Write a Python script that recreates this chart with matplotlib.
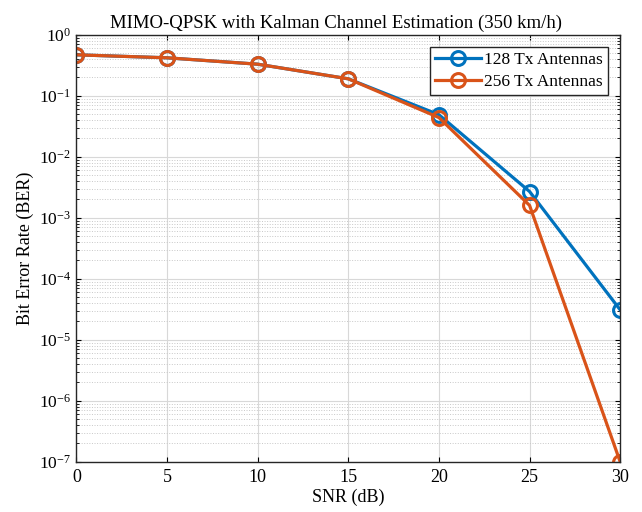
import matplotlib
matplotlib.use("Agg")
import matplotlib.pyplot as plt
from matplotlib.ticker import LogLocator, NullFormatter

plt.rcParams["font.family"] = ["Liberation Serif", "DejaVu Serif"]
plt.rcParams["mathtext.fontset"] = "stix"

snr_db = [0, 5, 10, 15, 20, 25, 30]
ber_128 = [0.47, 0.42, 0.33, 0.19, 0.049, 0.0027, 3.1e-5]
ber_256 = [0.47, 0.42, 0.33, 0.19, 0.044, 0.0016, 1e-7]

BLUE = "#0072BD"
ORANGE = "#D95319"

fig = plt.figure(figsize=(6.42, 5.12), dpi=100)
ax = fig.add_axes([0.119, 0.098, 0.847, 0.834])

ax.semilogy(snr_db, ber_128, "-o", color=BLUE, lw=2.3, ms=10,
            mfc="none", mew=2.2, label="128 Tx Antennas")
ax.semilogy(snr_db, ber_256, "-o", color=ORANGE, lw=2.3, ms=10,
            mfc="none", mew=2.2, label="256 Tx Antennas")

ax.set_xlim(0, 30)
ax.set_ylim(1e-7, 1)
ax.set_xticks(range(0, 31, 5))
ax.yaxis.set_major_locator(LogLocator(base=10, numticks=10))
ax.yaxis.set_minor_locator(LogLocator(base=10, subs=range(2, 10), numticks=20))
ax.yaxis.set_minor_formatter(NullFormatter())

ax.grid(True, which="major", color="#d8d8d8", lw=0.8)
ax.grid(True, which="minor", axis="y", color="#c8c8c8", lw=0.7, ls=":")
ax.tick_params(which="both", direction="in", top=True, right=True, labelsize=13)
ax.tick_params(axis="y", labelsize=12.5, pad=4)
ax.tick_params(axis="x", pad=5)
for s in ax.spines.values():
    s.set_linewidth(1.0)
    s.set_color("#262626")

ax.set_xlabel("SNR (dB)", fontsize=13, labelpad=2)
ax.set_ylabel("Bit Error Rate (BER)", fontsize=13, labelpad=3)
ax.set_title("MIMO-QPSK with Kalman Channel Estimation (350 km/h)",
             fontsize=13.5, pad=5, x=0.478)

leg = ax.legend(loc="upper right", fontsize=12.5, fancybox=False, framealpha=1,
                edgecolor="#262626", borderaxespad=0.7, handlelength=2.6,
                handletextpad=0.2, borderpad=0.3, labelspacing=0.3)
leg.get_frame().set_linewidth(1.0)

fig.savefig("out.png", dpi=100)
